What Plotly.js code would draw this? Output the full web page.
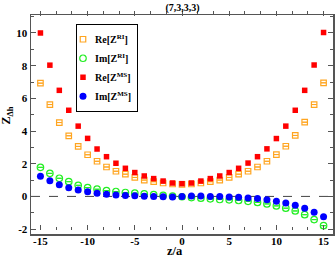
<!DOCTYPE html>
<html>
<head>
<meta charset="utf-8">
<script src="https://cdn.plot.ly/plotly-3.0.1.min.js"></script>
<style>html,body{margin:0;padding:0;background:#fff;}#chart{width:335px;height:259px;}</style>
</head>
<body>
<div id="chart"></div>
<script>
var zPositions = [-15,-14,-13,-12,-11,-10,-9,-8,-7,-6,-5,-4,-3,-2,-1,0,1,2,3,4,5,6,7,8,9,10,11,12,13,14,15];
var reZRI = [6.93,5.62,4.52,3.71,3.06,2.55,2.15,1.80,1.54,1.36,1.16,1.00,0.90,0.82,0.76,0.74,0.76,0.82,0.90,1.00,1.16,1.36,1.54,1.80,2.15,2.56,3.07,3.73,4.54,5.62,6.95];
var imZRI = [1.78,1.41,1.11,0.90,0.68,0.54,0.44,0.36,0.30,0.24,0.20,0.15,0.11,0.06,0.02,-0.02,-0.07,-0.11,-0.15,-0.19,-0.21,-0.25,-0.30,-0.37,-0.46,-0.58,-0.72,-0.89,-1.12,-1.42,-1.79];
var reZMS = [10.0,8.03,6.49,5.27,4.30,3.55,2.90,2.43,2.03,1.72,1.46,1.25,1.09,0.94,0.82,0.78,0.82,0.94,1.09,1.25,1.46,1.72,2.04,2.43,2.91,3.54,4.30,5.27,6.49,8.04,10.03];
var imZMS = [1.23,0.96,0.71,0.53,0.39,0.28,0.20,0.13,0.09,0.06,0.04,0.01,0.00,-0.02,-0.03,0.00,0.03,0.02,0.00,-0.01,-0.03,-0.05,-0.09,-0.13,-0.20,-0.29,-0.40,-0.54,-0.72,-0.97,-1.24];
var seriesNames = ['Re[Z<sup>RI</sup>]','Im[Z<sup>RI</sup>]','Re[Z<sup>MS</sup>]','Im[Z<sup>MS</sup>]'];
var xTickVals = [-15,-10,-5,0,5,10,15];
var yTickVals = [-2,0,2,4,6,8,10];

var serif = 'Liberation Serif, Times New Roman, serif';
var traces = [
  {x: zPositions, y: reZRI, name: seriesNames[0], type: 'scatter', mode: 'markers',
   marker: {symbol: 'square-open', size: 5.5, color: '#ffa520', line: {width: 1.2, color: '#ffa520'}},
   error_y: {type: 'constant', value: 0.0, width: 2.5, thickness: 1, color: '#ffa520'}},
  {x: zPositions, y: imZRI, name: seriesNames[1], type: 'scatter', mode: 'markers',
   marker: {symbol: 'circle-open', size: 6.5, color: '#22ee22', line: {width: 1.2, color: '#22ee22'}},
   error_y: {type: 'constant', value: 0.0, width: 2.5, thickness: 1, color: '#22ee22'}},
  {x: zPositions, y: reZMS, name: seriesNames[2], type: 'scatter', mode: 'markers',
   marker: {symbol: 'square', size: 5.5, color: '#ff0000'}},
  {x: zPositions, y: imZMS, name: seriesNames[3], type: 'scatter', mode: 'markers',
   marker: {symbol: 'circle', size: 7, color: '#0000ff'}}
];

var axisCommon = {
  showgrid: false, zeroline: false, showline: true, linecolor: '#555', linewidth: 1.5,
  mirror: 'allticks', ticks: 'inside', ticklen: 5, tickwidth: 1, tickcolor: '#555',
  tickfont: {family: serif, size: 11, color: '#000', weight: 'bold'}
};

var layout = {
  width: 335, height: 259,
  margin: {l: 31, r: 2, t: 15, b: 25, pad: 0},
  paper_bgcolor: '#fff', plot_bgcolor: '#fff',
  showlegend: true,
  title: {text: '<b>(7,3,3,3)</b>', font: {family: serif, size: 10, color: '#000'}, x: 0.545, xanchor: 'center', y: 0.972, yanchor: 'middle'},
  xaxis: Object.assign({}, axisCommon, {range: [-16, 16], tickvals: xTickVals, ticktext: xTickVals.map(String),
    minor: {dtick: 5/3, tick0: 0, ticks: 'inside', ticklen: 3, tickcolor: '#555'}}),
  yaxis: Object.assign({}, axisCommon, {range: [-2.3, 11.1], tickvals: yTickVals, ticktext: yTickVals.map(String),
    minor: {dtick: 1, tick0: 0, ticks: 'inside', ticklen: 3, tickcolor: '#555'}}),
  legend: {x: 0.149, y: 0.96, xanchor: 'left', yanchor: 'top', bgcolor: '#fff', bordercolor: '#000', borderwidth: 1,
    font: {family: serif, size: 10, color: '#000', weight: 'bold'}, tracegroupgap: 0},
  shapes: [{type: 'line', xref: 'paper', yref: 'y', x0: 0, x1: 1, y0: 0, y1: 0,
    line: {color: '#444', width: 1, dash: 'dash'}, layer: 'below'}],
  annotations: [
    {text: '<b>z/a</b>', xref: 'paper', yref: 'paper', x: 0.477, y: -0.077, xanchor: 'center', yanchor: 'middle',
     showarrow: false, font: {family: serif, size: 12.5, color: '#000'}},
    {text: '<b>Z<sub>Δh</sub></b>', xref: 'paper', yref: 'paper', x: -0.08, y: 0.54, xanchor: 'center', yanchor: 'middle',
     textangle: -90, showarrow: false, font: {family: serif, size: 12, color: '#000'}}
  ]
};

Plotly.newPlot('chart', traces, layout, {displayModeBar: false, staticPlot: true}).then(function (gd) {
  // compact the legend: symbol closer to the left edge, text closer to the symbol
  var symShift = -14, textShift = -22;
  gd.querySelectorAll('.legend .legendpoints').forEach(function (g) {
    var t = g.getAttribute('transform') || '';
    g.setAttribute('transform', t + ' translate(' + symShift + ',0)');
  });
  gd.querySelectorAll('.legend .legendtext').forEach(function (el) {
    var t = el.getAttribute('transform') || '';
    el.setAttribute('transform', t + ' translate(' + textShift + ',0)');
  });
  var bg = gd.querySelector('.legend rect.bg');
  if (bg) {
    var w = parseFloat(bg.getAttribute('width'));
    bg.setAttribute('width', w + textShift);
  }
  // lift x tick labels slightly closer to the axis
  var xl = gd.querySelector('.xaxislayer-above');
  if (xl) xl.setAttribute('transform', 'translate(0,-4)');
});
</script>
</body>
</html>
